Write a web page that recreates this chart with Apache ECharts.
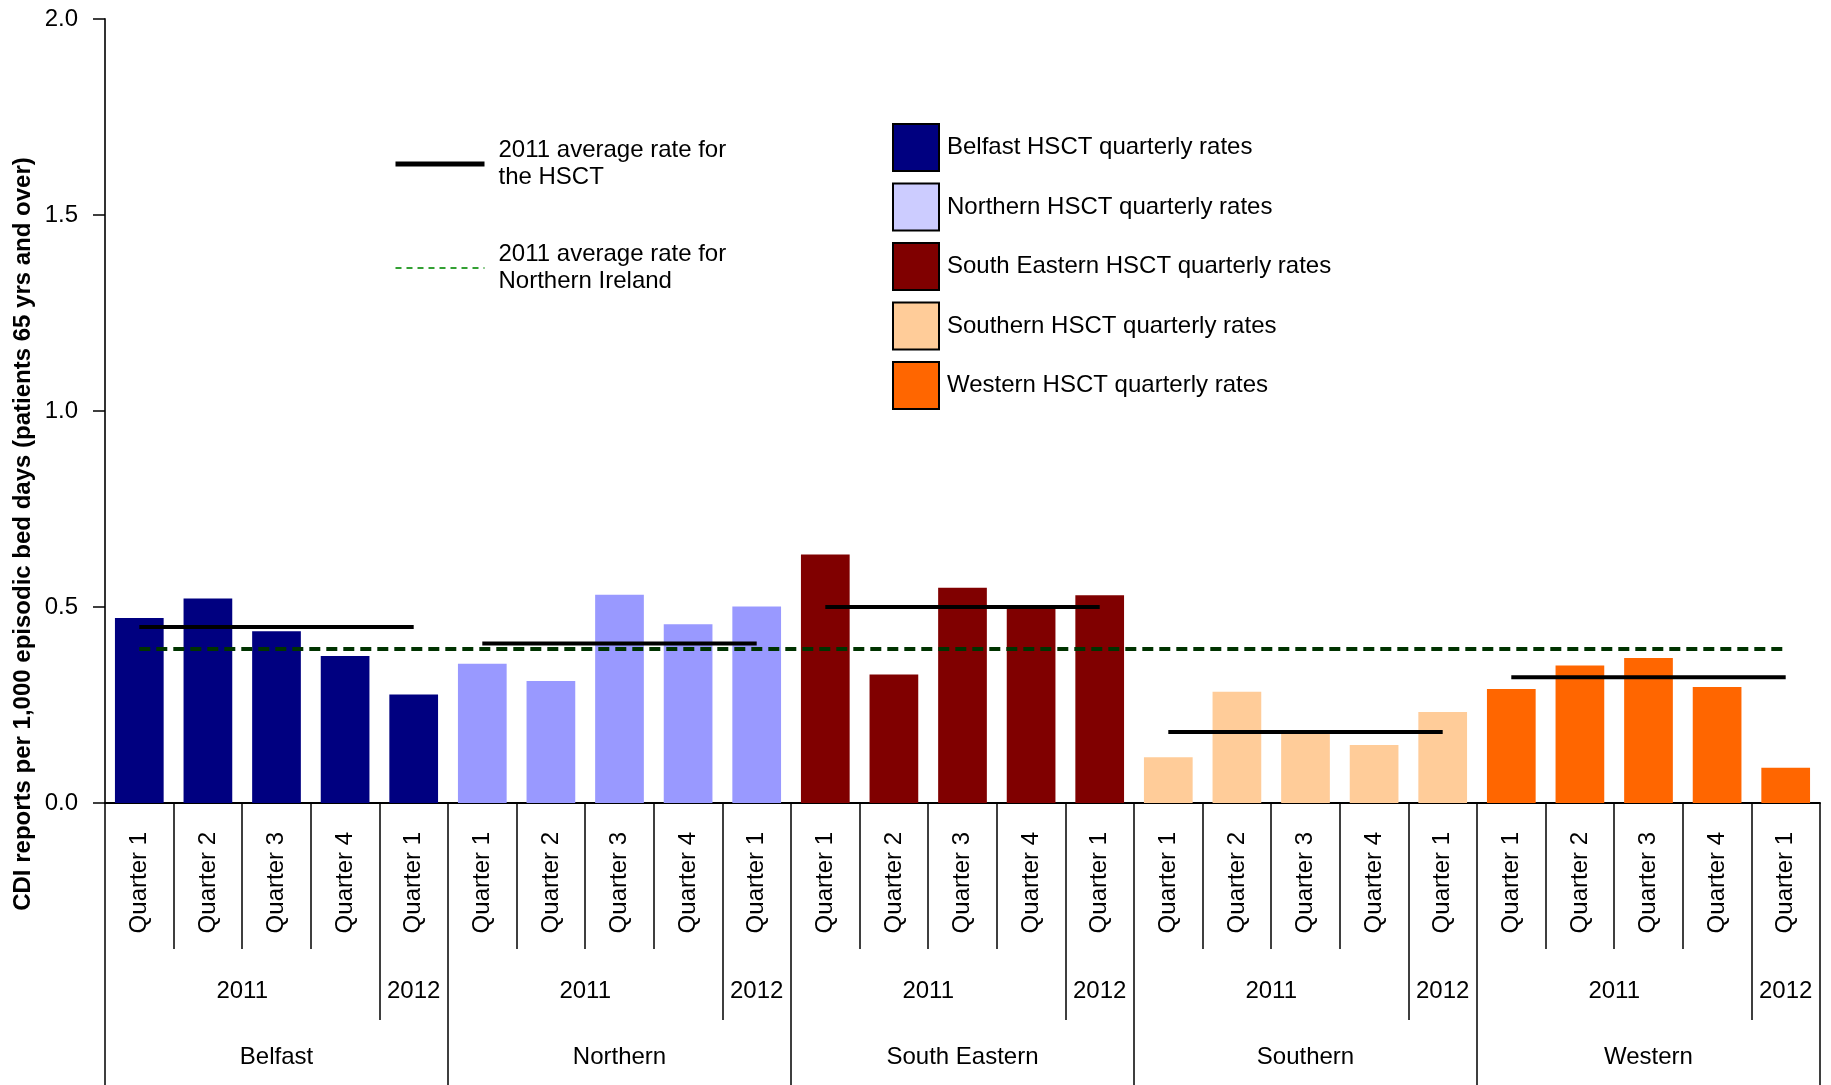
<!DOCTYPE html>
<html>
<head>
<meta charset="utf-8">
<title>CDI reports per 1,000 episodic bed days</title>
<script src="https://cdn.jsdelivr.net/npm/echarts@6/dist/echarts.min.js"></script>
<style>
html,body{margin:0;padding:0;background:#fff;}
#chart{width:1831px;height:1085px;}
</style>
</head>
<body>
<div id="chart"></div>
<script>
/* data */
const regions = ["Belfast","Northern","South Eastern","Southern","Western"];
const quarters = ["Quarter 1","Quarter 2","Quarter 3","Quarter 4","Quarter 1"];
const years = ["2011","2011","2011","2011","2012"];

const belfastRates = [0.472,0.522,0.438,0.375,0.277];
const northernRates = [0.355,0.311,0.531,0.456,0.501];
const southEasternRates = [0.634,0.328,0.549,0.500,0.530];
const southernRates = [0.117,0.284,0.179,0.148,0.232];
const westernRates = [0.291,0.351,0.370,0.296,0.090];

const hsctAvg2011 = [0.449,0.407,0.500,0.181,0.321];
const niAvg2011 = 0.393;

const barNames = ["Belfast HSCT quarterly rates","Northern HSCT quarterly rates","South Eastern HSCT quarterly rates","Southern HSCT quarterly rates","Western HSCT quarterly rates"];
const avgName = "2011 average rate for\nthe HSCT";
const niName = "2011 average rate for\nNorthern Ireland";
const yTitle = "CDI reports per 1,000 episodic bed days (patients 65 yrs and over)";

/* styles */
const barColors = ["#000080","#9999FF","#800000","#FFCC99","#FF6600"];
const legendColors = ["#000080","#CCCCFF","#800000","#FFCC99","#FF6600"];
const font = "Liberation Sans";

const regionRates = [belfastRates,northernRates,southEasternRates,southernRates,westernRates];
const quarterCats = regions.flatMap(()=>quarters);
const yearCats = regions.flatMap(()=>years);
const regionCats = regions.flatMap(r=>quarters.map(()=>r));
const per = quarters.length;

const barSeries = regions.map((r,ri)=>({
	name: barNames[ri],
	type: "bar",
	stack: "rates",
	barCategoryGap: "29%",
	silent: true,
	itemStyle: {color: barColors[ri]},
	data: quarterCats.map((q,i)=> Math.floor(i/per)===ri ? regionRates[ri][i%per] : "-")
}));

const avgSeries = regions.map((r,ri)=>({
	name: avgName,
	type: "line",
	symbol: "none",
	showSymbol: false,
	silent: true,
	z: 3,
	lineStyle: {color: "#000", width: 4},
	data: quarterCats.map((q,i)=> Math.floor(i/per)===ri ? hsctAvg2011[ri] : "-")
}));

const niSeries = {
	name: niName,
	type: "line",
	symbol: "none",
	showSymbol: false,
	silent: true,
	z: 4,
	lineStyle: {color: "#003300", width: 4, type: [11,6]},
	data: quarterCats.map(()=>niAvg2011)
};

const tickStyle = {color: "#000", width: 1.5};
const labelBase = {fontSize: 24, color: "#000", fontFamily: font};
const noSymbol = {color: "rgba(0,0,0,0)", borderWidth: 0, opacity: 0};

const chart = echarts.init(document.getElementById("chart"));

chart.setOption({
	animation: false,
	backgroundColor: "#fff",
	textStyle: {fontFamily: font},
	grid: {left: 105, right: 11, top: 19, bottom: 282, containLabel: false, outerBoundsMode: "none"},
	legend: [
		{
			orient: "vertical",
			left: 892,
			top: 123,
			padding: 0,
			itemWidth: 46,
			itemHeight: 47,
			itemGap: 10.5,
			icon: "rect",
			selectedMode: false,
			itemStyle: {borderColor: "#000", borderWidth: 2},
			textStyle: Object.assign({padding: [0,0,0,3]}, labelBase),
			data: barNames.map((n,i)=>({name: n, itemStyle: {color: legendColors[i]}}))
		},
		{
			orient: "vertical",
			left: 393,
			top: 137,
			padding: 0,
			itemWidth: 89,
			itemHeight: 14,
			itemGap: 50,
			selectedMode: false,
			textStyle: Object.assign({lineHeight: 27, padding: [0,0,0,9]}, labelBase),
			data: [
				{name: avgName, itemStyle: noSymbol, lineStyle: {color: "#000", width: 5, type: "solid"}},
				{name: niName, itemStyle: noSymbol, lineStyle: {color: "#33a033", width: 2, type: [6,5]}}
			]
		}
	],
	xAxis: [
		{
			type: "category",
			data: quarterCats,
			position: "bottom",
			axisLine: {show: true, lineStyle: {color: "#000", width: 2}},
			axisTick: {show: true, interval: 0, length: 146, lineStyle: tickStyle},
			axisLabel: Object.assign({interval: 0, rotate: 90, margin: 29}, labelBase)
		},
		{
			type: "category",
			data: yearCats,
			position: "bottom",
			axisLine: {show: false},
			axisTick: {show: true, interval: (i)=> i%per===per-1, length: 217, lineStyle: tickStyle},
			axisLabel: Object.assign({
				interval: (i)=> i%per===1 || i%per===per-1,
				margin: 176,
				formatter: (v,i)=> i%per===1 ? "{wide|"+v+"}" : v,
				rich: {wide: Object.assign({padding: [0,0,0,68.6]}, labelBase)}
			}, labelBase)
		},
		{
			type: "category",
			data: regionCats,
			position: "bottom",
			axisLine: {show: false},
			axisTick: {show: true, interval: (i)=> i%per===0, length: 282, lineStyle: tickStyle},
			axisLabel: Object.assign({interval: (i)=> i%per===2, margin: 242}, labelBase)
		}
	],
	yAxis: {
		type: "value",
		min: 0,
		max: 2,
		interval: 0.5,
		splitLine: {show: false},
		axisLine: {show: true, lineStyle: {color: "#333", width: 2}},
		axisTick: {show: true, length: 12, lineStyle: tickStyle},
		axisLabel: Object.assign({margin: 27, formatter: (v)=> v.toFixed(1)}, labelBase)
	},
	graphic: [
		{
			type: "text",
			x: 23,
			y: 534,
			rotation: Math.PI/2,
			style: {
				text: yTitle,
				font: "bold 24px " + font,
				fill: "#000",
				align: "center",
				verticalAlign: "middle"
			}
		}
	],
	series: [...barSeries, ...avgSeries, niSeries]
});
</script>
</body>
</html>
